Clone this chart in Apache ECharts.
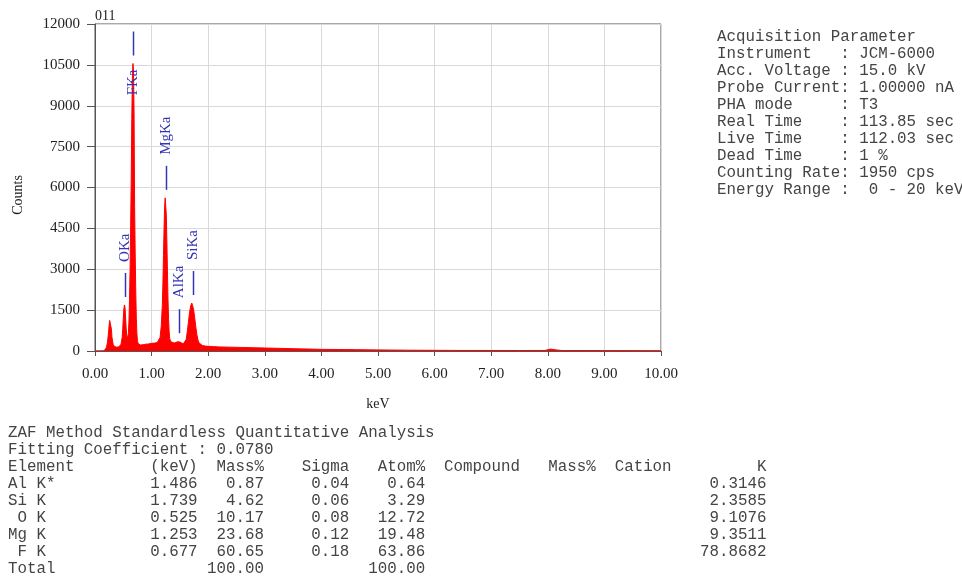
<!DOCTYPE html>
<html>
<head>
<meta charset="utf-8">
<script src="https://cdn.jsdelivr.net/npm/echarts@6/dist/echarts.min.js"></script>
<style>
html, body { margin: 0; padding: 0; background: #fff; }
#chart { width: 962px; height: 578px; }
</style>
</head>
<body>
<div id="chart"></div>
<script>
// spectrum (keV, counts)
var energies = [0.00, 0.10, 0.16, 0.18, 0.20, 0.22, 0.24, 0.25, 0.26, 0.27, 0.28, 0.29, 0.30, 0.32, 0.34, 0.36, 0.38, 0.40,
    0.42, 0.44, 0.46, 0.48, 0.49, 0.50, 0.51, 0.52, 0.53, 0.54, 0.55, 0.56, 0.57, 0.58, 0.59, 0.60, 0.61, 0.62, 0.63,
    0.64, 0.65, 0.66, 0.67, 0.68, 0.69, 0.70, 0.71, 0.72, 0.73, 0.74, 0.75, 0.76, 0.78, 0.80, 0.85, 0.90, 0.95, 1.00,
    1.05, 1.10, 1.13, 1.15, 1.17, 1.19, 1.20, 1.21, 1.22, 1.23, 1.24, 1.25, 1.26, 1.27, 1.28, 1.29, 1.30, 1.31, 1.32,
    1.34, 1.37, 1.40, 1.43, 1.46, 1.48, 1.50, 1.53, 1.56, 1.59, 1.61, 1.63, 1.65, 1.67, 1.69, 1.71, 1.72, 1.74, 1.76,
    1.78, 1.80, 1.82, 1.84, 1.87, 1.90, 1.95, 2.00, 2.10, 2.20, 2.40, 2.60, 2.80, 3.00, 3.20, 3.50, 3.80, 4.00, 4.30,
    4.60, 5.00, 5.50, 6.00, 6.50, 7.00, 7.50, 7.95, 8.05, 8.15, 8.25, 9.00, 10.00];
var counts = [0, 0, 5, 40, 120, 300, 700, 950, 1120, 1170, 1050, 800, 500, 250, 170, 150, 140, 145,
    150, 170, 250, 500, 800, 1200, 1550, 1690, 1600, 1250, 850, 560, 450, 480, 650, 1100, 1900, 3000, 4600,
    6300, 8500, 10000, 10550, 10300, 8800, 5300, 3600, 2200, 1200, 650, 380, 280, 230, 220, 230, 250, 260, 280,
    290, 310, 350, 500, 900, 1700, 2500, 3500, 4500, 5300, 5620, 5550, 5000, 4000, 2900, 1900, 1150, 700, 450,
    340, 300, 290, 300, 340, 360, 330, 270, 260, 300, 420, 700, 1050, 1400, 1650, 1760, 1720, 1550, 1250,
    900, 600, 400, 290, 230, 200, 180, 170, 160, 150, 140, 130, 120, 110, 100, 85, 70, 60, 55,
    50, 40, 30, 25, 20, 20, 18, 20, 70, 40, 18, 15, 10];

var peakNames = ['OKa', 'FKa', 'MgKa', 'AlKa', 'SiKa'];
var peakKeV = [0.525, 0.677, 1.253, 1.486, 1.739];

var paramLines = [
    'Acquisition Parameter',
    'Instrument   : JCM-6000',
    'Acc. Voltage : 15.0 kV',
    'Probe Current: 1.00000 nA',
    'PHA mode     : T3',
    'Real Time    : 113.85 sec',
    'Live Time    : 112.03 sec',
    'Dead Time    : 1 %',
    'Counting Rate: 1950 cps',
    'Energy Range :  0 - 20 keV'
];

var zafTitle = 'ZAF Method Standardless Quantitative Analysis';
var fitting = 'Fitting Coefficient : 0.0780';
var elements = ['Al K*', 'Si K', ' O K', 'Mg K', ' F K'];
var lineKeV = ['1.486', '1.739', '0.525', '1.253', '0.677'];
var massPct = ['0.87', '4.62', '10.17', '23.68', '60.65'];
var sigma = ['0.04', '0.06', '0.08', '0.12', '0.18'];
var atomPct = ['0.64', '3.29', '12.72', '19.48', '63.86'];
var kRatio = ['0.3146', '2.3585', '9.1076', '9.3511', '78.8682'];
var totals = ['100.00', '100.00'];

var tableLines = [zafTitle, fitting,
    'Element'.padEnd(15) + '(keV)' + 'Mass%'.padStart(7) + 'Sigma'.padStart(9) + 'Atom%'.padStart(8) +
    'Compound'.padStart(10) + 'Mass%'.padStart(8) + 'Cation'.padStart(8) + 'K'.padStart(10)];
for (var i = 0; i < elements.length; i++) {
    tableLines.push(elements[i].padEnd(15) + lineKeV[i] + massPct[i].padStart(7) + sigma[i].padStart(9) +
        atomPct[i].padStart(8) + kRatio[i].padStart(36));
}
tableLines.push('Total'.padEnd(20) + totals[0].padStart(7) + ''.padStart(9) + totals[1].padStart(8));

function peakTop(e) {
    var m = 0;
    for (var k = 0; k < energies.length; k++) {
        if (Math.abs(energies[k] - e) <= 0.03 && counts[k] > m) m = counts[k];
    }
    return m;
}

var spectrum = energies.map(function (e, k) { return [e, counts[k]]; });
var peaks = peakKeV.map(function (e, k) { return [e, peakTop(e), k]; });

var MONO = '15.8px "Liberation Mono", "DejaVu Sans Mono", monospace';
var SERIF = '"Liberation Serif", "DejaVu Serif", serif';
var BLUE = '#3434b4';

var graphics = [];
paramLines.forEach(function (t, k) {
    graphics.push({ type: 'text', left: 717, top: 29 + 17 * k, silent: true,
        style: { text: t, font: MONO, fill: '#444' } });
});
tableLines.forEach(function (t, k) {
    graphics.push({ type: 'text', left: 8, top: 425 + 17 * k, silent: true,
        style: { text: t, font: MONO, fill: '#444' } });
});

var myChart = echarts.init(document.getElementById('chart'));

var option = {
    animation: false,
    backgroundColor: '#fff',
    title: {
        text: '011',
        left: 95,
        top: 9,
        padding: 0,
        textStyle: { fontFamily: SERIF, fontSize: 14, fontWeight: 'normal', color: '#222' }
    },
    grid: {
        left: 95, right: 301, top: 24, bottom: 227,
        show: true, borderColor: '#555', borderWidth: 1
    },
    xAxis: {
        type: 'value',
        min: 0, max: 10, interval: 1,
        name: 'keV', nameLocation: 'middle', nameGap: 46,
        nameTextStyle: { fontFamily: SERIF, fontSize: 14, color: '#222' },
        axisLine: { lineStyle: { color: '#555' } },
        axisTick: { length: 5, lineStyle: { color: '#555' } },
        axisLabel: {
            margin: 16, fontFamily: SERIF, fontSize: 15, color: '#222',
            formatter: function (v) { return v.toFixed(2); }
        },
        splitLine: { lineStyle: { color: '#d9d9d9' } }
    },
    yAxis: {
        type: 'value',
        min: 0, max: 12000, interval: 1500,
        name: 'Counts', nameLocation: 'middle', nameGap: 70, nameRotate: 90,
        nameTextStyle: { fontFamily: SERIF, fontSize: 14, color: '#222', padding: [0, 15, 0, 0] },
        axisLine: { show: true, lineStyle: { color: '#555' } },
        axisTick: { show: true, length: 8, lineStyle: { color: '#555' } },
        axisLabel: {
            margin: 15, fontFamily: SERIF, fontSize: 15, color: '#222',
            formatter: function (v) { return String(v); }
        },
        splitLine: { lineStyle: { color: '#d9d9d9' } }
    },
    graphic: graphics,
    series: [
        {
            type: 'line',
            data: spectrum,
            showSymbol: false,
            silent: true,
            lineStyle: { color: '#f00', width: 1 },
            areaStyle: { color: '#f00', opacity: 1 },
            z: 2
        },
        {
            type: 'custom',
            data: peaks,
            silent: true,
            z: 3,
            renderItem: function (params, api) {
                var p = api.coord([api.value(0), api.value(1)]);
                var x = Math.round(p[0]) + 0.5;
                var yb = p[1] - 8;
                var yt = yb - 24;
                var name = peakNames[api.value(2)];
                var len = name.length * 9;
                var below = yt - 11 - len < params.coordSys.y;
                return {
                    type: 'group',
                    children: [
                        { type: 'line', shape: { x1: x, y1: yb, x2: x, y2: yt },
                          style: { stroke: BLUE, lineWidth: 1.5 } },
                        { type: 'text', x: x, y: below ? yb + 14 : yt - 11, rotation: Math.PI / 2,
                          style: { text: name, fill: BLUE, font: '15px ' + SERIF,
                                   align: below ? 'right' : 'left', verticalAlign: 'middle' } }
                    ]
                };
            }
        }
    ]
};

myChart.setOption(option);
</script>
</body>
</html>
